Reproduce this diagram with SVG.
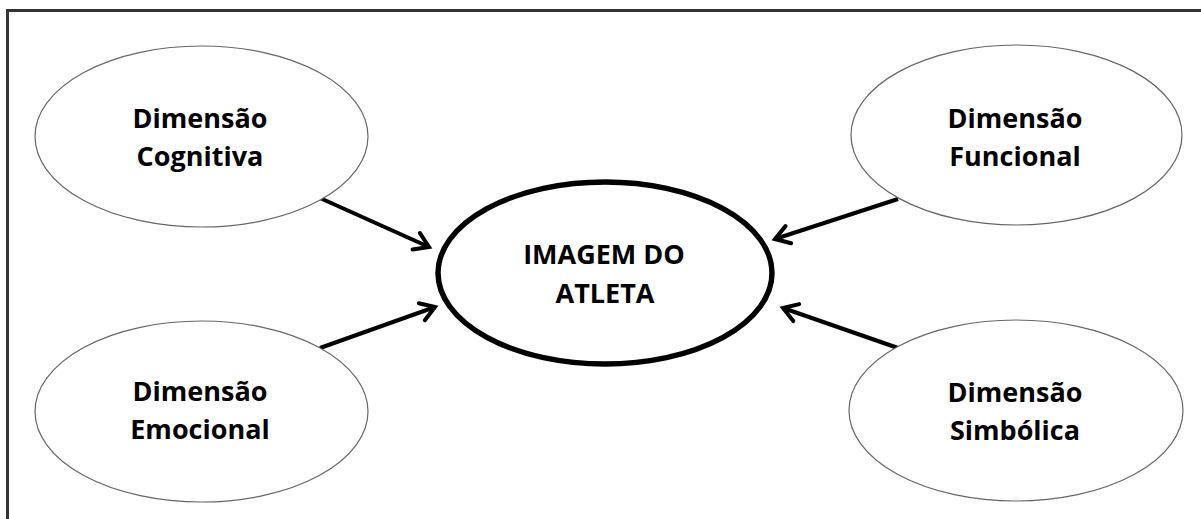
<svg xmlns="http://www.w3.org/2000/svg" width="1201" height="519" viewBox="0 0 1201 519">
  <defs>
    <marker id="arrow" markerUnits="userSpaceOnUse" markerWidth="30" markerHeight="30" viewBox="-20 -15 30 30" refX="0" refY="0" orient="auto" overflow="visible">
      <path d="M-14,-9 L0,0 L-14,9" fill="none" stroke="#000" stroke-width="4" stroke-linecap="round" stroke-linejoin="miter"/>
    </marker>
  </defs>
  <style>
    .dim { fill: #fff; stroke: #666; stroke-width: 1.2; }
    .core { fill: #fff; stroke: #000; stroke-width: 5.5; }
    .lbl { font-family: "Open Sans", "Liberation Sans", sans-serif; font-weight: bold; font-size: 27px; fill: #000; text-anchor: middle; }
    .edge { stroke: #000; stroke-width: 4; fill: none; marker-end: url(#arrow); }
  </style>
  <rect width="1201" height="519" fill="#fff"/>
  <!-- frame: top and left borders only -->
  <g id="frame" stroke="#333" stroke-width="3" fill="none">
    <path d="M7.5,519 L7.5,10.5 L1201,10.5"/>
  </g>

  <g id="connectors">
    <line class="edge" x1="320" y1="198" x2="429" y2="247"/>
    <line class="edge" x1="320" y1="348" x2="435" y2="307"/>
    <line class="edge" x1="898" y1="199" x2="775" y2="239"/>
    <line class="edge" x1="898" y1="348" x2="783" y2="308"/>
  </g>

  <g id="cognitiva">
    <ellipse class="dim" cx="201.5" cy="136.5" rx="166.5" ry="90.5"/>
    <text class="lbl" x="200" y="128">Dimensão</text>
    <text class="lbl" x="200" y="166">Cognitiva</text>
  </g>
  <g id="emocional">
    <ellipse class="dim" cx="201.5" cy="411.5" rx="166.5" ry="90.5"/>
    <text class="lbl" x="200" y="401">Dimensão</text>
    <text class="lbl" x="200" y="439">Emocional</text>
  </g>
  <g id="funcional">
    <ellipse class="dim" cx="1016.5" cy="135" rx="165.5" ry="90"/>
    <text class="lbl" x="1015" y="128">Dimensão</text>
    <text class="lbl" x="1015" y="166">Funcional</text>
  </g>
  <g id="simbolica">
    <ellipse class="dim" cx="1016" cy="410.5" rx="167" ry="90.5"/>
    <text class="lbl" x="1015" y="402">Dimensão</text>
    <text class="lbl" x="1015" y="440">Simbólica</text>
  </g>
  <g id="imagem">
    <ellipse class="core" cx="605" cy="273" rx="167" ry="91"/>
    <text class="lbl" x="604" y="264">IMAGEM DO</text>
    <text class="lbl" x="605" y="303">ATLETA</text>
  </g>
</svg>
